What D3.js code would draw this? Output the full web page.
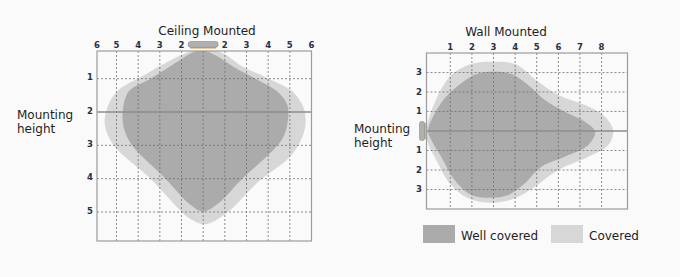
<!DOCTYPE html>
<html>
<head>
<meta charset="utf-8">
<script src="https://cdn.jsdelivr.net/npm/d3@7"></script>
<style>
  body { margin: 0; background: #fafafa; }
  text { font-family: "DejaVu Sans", sans-serif; fill: #1e1e24; }
  .tick-label { font-size: 8.5px; font-weight: bold; fill: #27303f; }
</style>
</head>
<body>
<svg id="chart"></svg>
<script>
// values: x in grid units from the lamp, y in label units
var ceilingXTicks = [-4, -3, -2, -1, 1, 2, 3, 4];
var ceilingXEdgeTicks = [-4.9, 5.0];
var ceilingXLabels = ["5", "4", "3", "2", "2", "3", "4", "5"];
var ceilingYTicks = [1, 2, 3, 4, 5];
var ceilingGrid = [-4, -3, -2, -1, 0, 1, 2, 3, 4];

var ceilingWell = [
  [0, 0.16], [0.57, 0.30], [1.49, 0.68], [2.41, 1.0], [3.41, 1.38], [3.88, 1.78],
  [3.92, 2.18], [3.72, 2.73], [3.18, 3.18], [1.8, 4.0], [0.72, 4.73], [0, 4.98],
  [-0.59, 4.78], [-1.74, 4.0], [-3.28, 3.0], [-3.66, 2.48], [-3.71, 1.98],
  [-3.43, 1.38], [-2.43, 1.0], [-1.28, 0.53], [-0.51, 0.22]
];
var ceilingCovered = [
  [0, 0.1], [0.88, 0.23], [1.8, 0.63], [3.03, 1.0], [4.11, 1.38], [4.64, 1.88],
  [4.72, 2.38], [4.49, 2.88], [3.95, 3.38], [2.57, 4.08], [1.18, 4.98], [0.34, 5.33],
  [-0.05, 5.36], [-0.66, 5.18], [-2.43, 4.0], [-4.13, 3.0], [-4.54, 2.38],
  [-4.43, 1.88], [-3.97, 1.38], [-2.82, 0.93], [-1.59, 0.48], [-0.59, 0.18]
];

var wallXTicks = [1, 2, 3, 4, 5, 6, 7, 8];
var wallYTicks = [3, 2, 1, -1, -2, -3];

var wallWell = [
  [-0.03, 0], [0.2, 0.73], [0.74, 1.68], [1.51, 2.45], [2.21, 2.92], [2.98, 3.04],
  [3.83, 2.92], [4.6, 2.36], [5.38, 1.59], [6.3, 0.99], [7.23, 0.48], [7.7, -0.03],
  [7.39, -0.72], [6.3, -1.32], [5.22, -1.83], [4.45, -2.68], [3.68, -3.28],
  [2.9, -3.42], [1.98, -3.28], [1.2, -2.51], [0.58, -1.32], [0.12, -0.46]
];
var wallCovered = [
  [-0.1, 0], [0.2, 1.25], [1.05, 2.87], [1.98, 3.44], [2.98, 3.55], [3.99, 3.44],
  [5.07, 2.53], [5.99, 1.85], [7.23, 1.33], [8.16, 0.73], [8.54, 0], [8.31, -0.72],
  [7.39, -1.32], [5.99, -2.0], [4.91, -2.86], [3.99, -3.45], [2.9, -3.68],
  [1.82, -3.45], [0.97, -2.68], [0.35, -1.49], [-0.03, -0.63]
];

var legendNames = ["Well covered", "Covered"];
var legendColors = ["#ababab", "#d7d7d7"];

var width = 680;
var height = 277;

var svg = d3.select("#chart").attr("width", width).attr("height", height);

var defs = svg.append("defs");

function drawShape(g, pts, x, y, color) {
  var line = d3.line()
    .x(function(d) { return x(d[0]); })
    .y(function(d) { return y(d[1]); })
    .curve(d3.curveCatmullRomClosed.alpha(0.5));
  g.append("path")
    .attr("d", line(pts))
    .attr("fill", color);
}

function frame(id, x, y) {
  var x0 = x.range()[0], x1 = x.range()[1];
  var y0 = Math.min(y.range()[0], y.range()[1]), y1 = Math.max(y.range()[0], y.range()[1]);
  defs.append("clipPath").attr("id", id)
    .append("rect").attr("x", x0).attr("y", y0).attr("width", x1 - x0).attr("height", y1 - y0);
  return { x0: x0, x1: x1, y0: y0, y1: y1 };
}

function gridLines(g, b, xs, ys, x, y) {
  g.selectAll(".vg").data(xs).enter().append("line")
    .attr("x1", function(d) { return x(d); }).attr("x2", function(d) { return x(d); })
    .attr("y1", b.y0).attr("y2", b.y1)
    .attr("stroke", "#6f6f6f").attr("stroke-width", 0.8).attr("stroke-dasharray", "2,2");
  g.selectAll(".hg").data(ys).enter().append("line")
    .attr("y1", function(d) { return y(d); }).attr("y2", function(d) { return y(d); })
    .attr("x1", b.x0).attr("x2", b.x1)
    .attr("stroke", "#6f6f6f").attr("stroke-width", 0.8).attr("stroke-dasharray", "2,2");
}

function ceiling() {
  var x = d3.scaleLinear().domain([-4.9, 5.0]).range([97, 311.5]);
  var y = d3.scaleLinear().domain([0.17, 5.87]).range([51, 241]);
  var b = frame("clipC", x, y);

  var g = svg.append("g").attr("clip-path", "url(#clipC)");
  drawShape(g, ceilingCovered, x, y, legendColors[1]);
  drawShape(g, ceilingWell, x, y, legendColors[0]);

  gridLines(svg.append("g"), b, ceilingGrid, ceilingYTicks.filter(function(d) { return d != 2; }), x, y);

  // mounting height line
  svg.append("line")
    .attr("x1", b.x0).attr("x2", b.x1).attr("y1", y(2)).attr("y2", y(2))
    .attr("stroke", "#8c8c8c").attr("stroke-width", 1.5);

  svg.append("rect")
    .attr("x", b.x0).attr("y", b.y0).attr("width", b.x1 - b.x0).attr("height", b.y1 - b.y0)
    .attr("fill", "none").attr("stroke", "#9c9c9c").attr("stroke-width", 1.2);

  var xt = ceilingXTicks.slice(0, 4).concat([ceilingXEdgeTicks[0]]).concat(ceilingXTicks.slice(4)).concat([ceilingXEdgeTicks[1]]);
  var xl = ceilingXLabels.slice(0, 4).concat(["6"]).concat(ceilingXLabels.slice(4)).concat(["6"]);
  svg.selectAll(".cxt").data(xt).enter().append("text")
    .attr("class", "tick-label")
    .attr("x", function(d) { return x(d); })
    .attr("y", 48)
    .attr("text-anchor", "middle")
    .text(function(d, i) { return xl[i]; });

  svg.selectAll(".cyt").data(ceilingYTicks).enter().append("text")
    .attr("class", "tick-label")
    .attr("x", 93)
    .attr("y", function(d) { return y(d) + 1.5; })
    .attr("text-anchor", "end")
    .text(function(d) { return d; });

  // lamp
  svg.append("line")
    .attr("x1", x(0) - 13).attr("x2", x(0) + 13).attr("y1", 47.8).attr("y2", 47.8)
    .attr("stroke", "#e0a456").attr("stroke-width", 1.6);
  svg.append("rect")
    .attr("x", x(0) - 15).attr("y", 41.5).attr("width", 30).attr("height", 5.8)
    .attr("rx", 2.5).attr("fill", "#b0b0b0").attr("stroke", "#8a8a8a").attr("stroke-width", 0.6);

  svg.append("text")
    .attr("x", 207).attr("y", 35)
    .attr("text-anchor", "middle")
    .style("font-size", "12px")
    .text("Ceiling Mounted");

  var mt = svg.append("text").style("font-size", "12px");
  mt.append("tspan").attr("x", 17).attr("y", 119).text("Mounting");
  mt.append("tspan").attr("x", 17).attr("y", 133).text("height");
}

function wall() {
  var x = d3.scaleLinear().domain([-0.1, 9.2]).range([426.5, 627.5]);
  var y = d3.scaleLinear().domain([-4, 4]).range([209, 53]);
  var b = frame("clipW", x, y);

  var g = svg.append("g").attr("clip-path", "url(#clipW)");
  drawShape(g, wallCovered, x, y, legendColors[1]);
  drawShape(g, wallWell, x, y, legendColors[0]);

  gridLines(svg.append("g"), b, wallXTicks, wallYTicks, x, y);

  svg.append("line")
    .attr("x1", b.x0).attr("x2", b.x1).attr("y1", y(0)).attr("y2", y(0))
    .attr("stroke", "#8c8c8c").attr("stroke-width", 1.5);

  svg.append("rect")
    .attr("x", b.x0).attr("y", b.y0).attr("width", b.x1 - b.x0).attr("height", b.y1 - b.y0)
    .attr("fill", "none").attr("stroke", "#9c9c9c").attr("stroke-width", 1.2);

  svg.selectAll(".wxt").data(wallXTicks).enter().append("text")
    .attr("class", "tick-label")
    .attr("x", function(d) { return x(d); })
    .attr("y", 50)
    .attr("text-anchor", "middle")
    .text(function(d) { return d; });

  svg.selectAll(".wyt").data(wallYTicks).enter().append("text")
    .attr("class", "tick-label")
    .attr("x", 422)
    .attr("y", function(d) { return y(d); })
    .attr("dy", "0.35em")
    .attr("text-anchor", "end")
    .text(function(d) { return Math.abs(d); });

  // lamp
  svg.append("line")
    .attr("x1", 425).attr("x2", 425).attr("y1", y(0) - 8).attr("y2", y(0) + 8)
    .attr("stroke", "#e0a456").attr("stroke-width", 1.6);
  svg.append("rect")
    .attr("x", 419.5).attr("y", y(0) - 9.5).attr("width", 5).attr("height", 19)
    .attr("rx", 2).attr("fill", "#b0b0b0").attr("stroke", "#8a8a8a").attr("stroke-width", 0.6);

  svg.append("text")
    .attr("x", 506).attr("y", 36)
    .attr("text-anchor", "middle")
    .style("font-size", "12px")
    .text("Wall Mounted");

  var mt = svg.append("text").style("font-size", "12px");
  mt.append("tspan").attr("x", 354).attr("y", 133).text("Mounting");
  mt.append("tspan").attr("x", 354).attr("y", 147).text("height");

  // legend
  var lx = [423, 551];
  var lg = svg.selectAll(".legend").data(legendNames).enter().append("g")
    .attr("transform", function(d, i) { return "translate(" + lx[i] + ",225)"; });
  lg.append("rect")
    .attr("width", 32).attr("height", 18)
    .attr("fill", function(d, i) { return legendColors[i]; });
  lg.append("text")
    .attr("x", 38).attr("y", 15)
    .style("font-size", "12px")
    .text(function(d) { return d; });
}

ceiling();
wall();
</script>
</body>
</html>
